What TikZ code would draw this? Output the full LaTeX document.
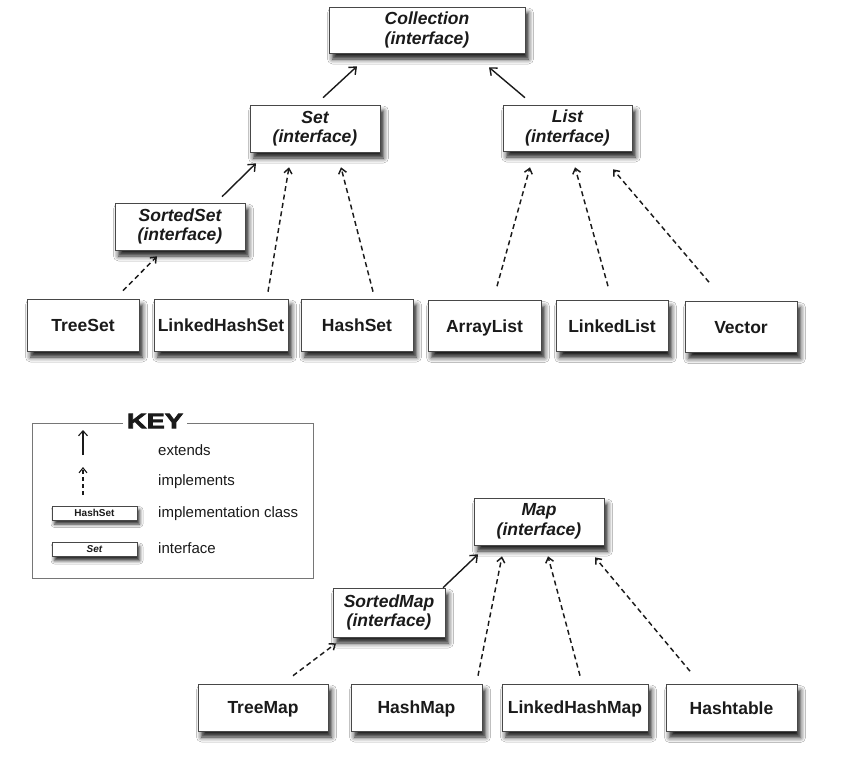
\documentclass[tikz,border=0pt]{standalone}
\usepackage{fontspec}
\setmainfont{Liberation Sans}
\newfontfamily\keyfont{Liberation Sans Bold}[FakeBold=3]
\usetikzlibrary{arrows.meta,shadows.blur}
\definecolor{ink}{HTML}{1A1A1A}
\tikzset{
  box/.style={draw=ink!80, line width=0.6pt, fill=white, text=ink, align=center,
    inner sep=0pt, font=\fontsize{17.5}{19.5}\selectfont\bfseries,
    blur shadow={shadow xshift=3.5pt, shadow yshift=-6pt, shadow blur radius=5pt, shadow opacity=90}},
  cls/.style={box, text height=12.6pt, text depth=0pt},
  ifc/.style={box, font=\fontsize{17.5}{19.5}\selectfont\bfseries\itshape},
  minibox/.style={draw=ink!80, line width=0.6pt, fill=white, text=ink, inner sep=0pt,
    minimum width=85pt, minimum height=14pt,
    blur shadow={shadow xshift=2.5pt, shadow yshift=-4pt, shadow blur radius=3.5pt, shadow opacity=85}},
  ext/.style={draw=ink, line width=1.4pt, -{Straight Barb[length=6pt,width=10pt]}},
  impl/.style={draw=ink, line width=1.45pt, dash pattern=on 5pt off 3.5pt, -{Straight Barb[length=5pt,width=8pt]}},
  keytxt/.style={anchor=west, text=ink, font=\fontsize{15}{17}\selectfont, inner sep=0pt},
}
\begin{document}
\begin{tikzpicture}[x=1pt,y=-1pt]
\useasboundingbox (0,0) rectangle (858,756);
\fill[white] (0,0) rectangle (858,756);

% interfaces
\node[ifc, minimum width=196pt, minimum height=46pt] (coll) at (427,30) {Collection\\(interface)};
\node[ifc, minimum width=130pt, minimum height=47pt] (set) at (315,128.5) {Set\\(interface)};
\node[ifc, minimum width=129pt, minimum height=46pt] (list) at (567.5,128) {List\\(interface)};
\node[ifc, minimum width=130pt, minimum height=47pt] (sset) at (180,226.5) {SortedSet\\(interface)};
\node[ifc, minimum width=130pt, minimum height=47pt] (map) at (539,521.5) {Map\\(interface)};
\node[ifc, minimum width=112pt, minimum height=49pt] (smap) at (389,612.5) {SortedMap\\(interface)};

% classes
\node[cls, minimum width=112pt, minimum height=52pt] (treeset) at (83,325) {TreeSet};
\node[cls, minimum width=134pt, minimum height=52pt] (lhs) at (221,325) {LinkedHashSet};
\node[cls, minimum width=112pt, minimum height=52pt] (hashset) at (357,325) {HashSet};
\node[cls, minimum width=113pt, minimum height=51pt] (alist) at (484.5,326) {ArrayList};
\node[cls, minimum width=112pt, minimum height=51pt] (llist) at (612,326) {LinkedList};
\node[cls, minimum width=112pt, minimum height=51pt] (vector) at (741,327) {Vector};
\node[cls, minimum width=130pt, minimum height=47pt] (treemap) at (263,707.5) {TreeMap};
\node[cls, minimum width=131pt, minimum height=47pt] (hashmap) at (416.5,707.5) {HashMap};
\node[cls, minimum width=146pt, minimum height=47pt] (lhm) at (575,707.5) {LinkedHashMap};
\node[cls, minimum width=131pt, minimum height=47pt] (htable) at (731.5,708) {Hashtable};

% extends
\draw[ext] ([shift={(8,-7)}]set.north) -- ([shift={(-70,13)}]coll.south);
\draw[ext] ([shift={(-42.5,-7)}]list.north) -- ([shift={(62,14)}]coll.south);
\draw[ext] ([shift={(42,-6)}]sset.north) -- ([shift={(-59,11)}]set.south);
\draw[ext] ([shift={(54,0)}]smap.north) -- ([shift={(-61,9)}]map.south);

% implements
\draw[impl] ([shift={(40,-8)}]treeset.north) -- ([shift={(-23,6)}]sset.south);
\draw[impl] ([shift={(47,-7)}]lhs.north) -- ([shift={(-26,15)}]set.south);
\draw[impl] ([shift={(16,-7)}]hashset.north) -- ([shift={(26,15)}]set.south);
\draw[impl] ([shift={(12.5,-14)}]alist.north) -- ([shift={(-37.5,16)}]list.south);
\draw[impl] ([shift={(-4,-14)}]llist.north) -- ([shift={(7.5,16)}]list.south);
\draw[impl] ([shift={(-32,-19)}]vector.north) -- ([shift={(45.5,18)}]list.south);
\draw[impl] ([shift={(30,-8)}]treemap.north) -- ([shift={(-53,6)}]smap.south);
\draw[impl] ([shift={(61.5,-8)}]hashmap.north) -- ([shift={(-37,11)}]map.south);
\draw[impl] ([shift={(5,-8)}]lhm.north) -- ([shift={(9,11)}]map.south);
\draw[impl] ([shift={(-41.5,-13)}]htable.north) -- ([shift={(56,12)}]map.south);

% key
\draw[ink!60, line width=0.7pt] (32,423) rectangle (313,578);
\node[fill=white, inner xsep=4pt, inner ysep=0pt, text=ink] (key) at (155,421)
  {\scalebox{1.3}[1]{\keyfont\fontsize{21}{21}\selectfont\bfseries KEY}};
\coordinate (ka1) at (83,455);
\coordinate (ka2) at (83,430);
\coordinate (kb1) at (83,495);
\coordinate (kb2) at (83,467);
\draw[draw=ink, line width=1.1pt, -{Straight Barb[length=5pt,width=9pt]}] (ka1) -- (ka2);
\draw[impl, line width=1.1pt, dash pattern=on 4pt off 3pt] (kb1) -- (kb2);
\node[keytxt] (t1) at (158,450) {extends};
\node[keytxt] (t2) at (158,482) {implements};
\node[minibox, font=\fontsize{10}{11}\selectfont\bfseries] (kc) at (94.5,513) {HashSet};
\node[keytxt] (t3) at (158,514) {implementation class};
\node[minibox, font=\fontsize{10}{11}\selectfont\bfseries\itshape] (ki) at (94.5,549.5) {Set};
\node[keytxt] (t4) at (158,548) {interface};
\end{tikzpicture}
\end{document}
